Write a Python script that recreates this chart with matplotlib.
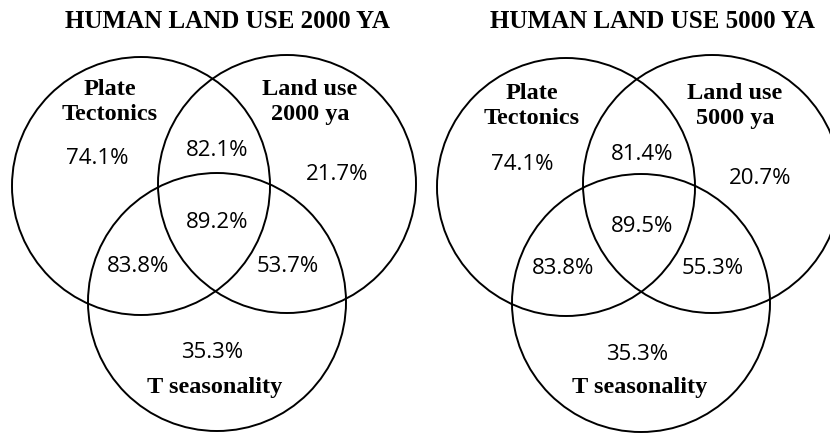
import matplotlib
matplotlib.use("Agg")
import matplotlib.pyplot as plt
from matplotlib.patches import Circle

# panel titles and set names
titles = ["HUMAN LAND USE 2000 YA", "HUMAN LAND USE 5000 YA"]
set_names = [["Plate\nTectonics", "Land use\n2000 ya", "T seasonality"],
             ["Plate\nTectonics", "Land use\n5000 ya", "T seasonality"]]

# region values: A only, AB, B only, ABC, AC, BC, C only
regions = ["A", "AB", "B", "ABC", "AC", "BC", "C"]
values_2000 = [74.1, 82.1, 21.7, 89.2, 83.8, 53.7, 35.3]
values_5000 = [74.1, 81.4, 20.7, 89.5, 83.8, 55.3, 35.3]

# layout (pixel coords, y down)
circle_pos = [[(141, 186), (287, 184), (217, 302)],
              [(566, 187), (712, 184), (641, 303)]]
radius = 129
title_pos = [(227, 22), (652, 22)]
name_pos = [[(110, 102), (310, 102), (215, 387)],
            [(532, 106), (735, 106), (640, 388)]]
value_pos = [
    {"A": (97, 159), "AB": (217, 151), "B": (337, 174), "ABC": (217, 223),
     "AC": (138, 266), "BC": (288, 266), "C": (212, 353)},
    {"A": (522, 164), "AB": (642, 154), "B": (760, 178), "ABC": (642, 226),
     "AC": (563, 268), "BC": (713, 268), "C": (637, 354)},
]

fig = plt.figure(figsize=(8.3, 4.33), dpi=100)
ax = fig.add_axes([0, 0, 1, 1])
ax.set_xlim(0, 830)
ax.set_ylim(433, 0)
ax.axis("off")

serif = ["Liberation Serif", "DejaVu Serif"]
sans = ["Open Sans", "DejaVu Sans"]

for p, vals in enumerate([values_2000, values_5000]):
    for (cx, cy) in circle_pos[p]:
        ax.add_patch(Circle((cx, cy), radius, fill=False, ec="black", lw=1.4))
    ax.text(*title_pos[p], titles[p], ha="center", va="center",
            fontsize=18, fontweight="bold", family=serif)
    for i, name in enumerate(set_names[p]):
        ax.text(*name_pos[p][i], name, ha="center", va="center",
                fontsize=17.5, fontweight="bold", family=serif, linespacing=1.3)
    for r, v in zip(regions, vals):
        ax.text(*value_pos[p][r], f"{v:.1f}%", ha="center", va="center",
                fontsize=16, family=sans)

fig.savefig("out.png", dpi=100)
